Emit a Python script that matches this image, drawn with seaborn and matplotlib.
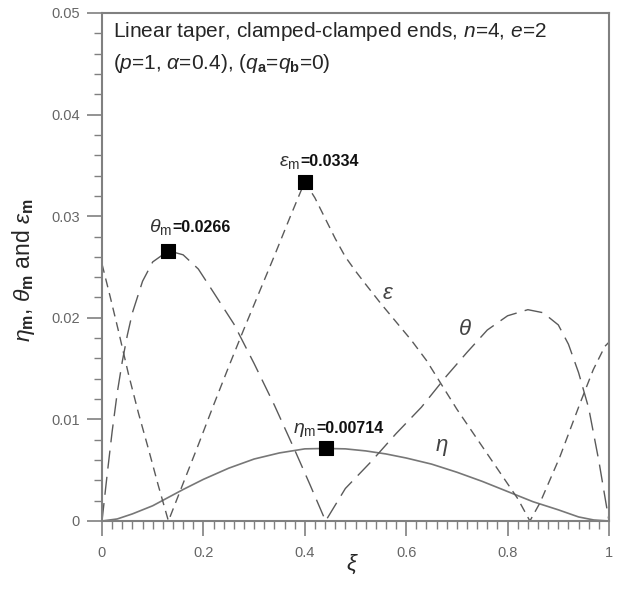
import numpy as np
import pandas as pd
import matplotlib
matplotlib.use("Agg")
import matplotlib.pyplot as plt
from matplotlib.ticker import MultipleLocator, FuncFormatter
import seaborn as sns

# deflection eta (solid)
eta_xi = [0, 0.03, 0.06, 0.10, 0.13, 0.16, 0.20, 0.25, 0.30, 0.35, 0.40, 0.441, 0.48,
          0.52, 0.56, 0.60, 0.65, 0.70, 0.75, 0.80, 0.85, 0.90, 0.94, 0.97, 1.0]
eta = [0, 0.0002, 0.0007, 0.0015, 0.0023, 0.0031, 0.0041, 0.0052, 0.0061, 0.0067, 0.0071,
       0.00714, 0.0071, 0.0069, 0.0066, 0.0062, 0.0056, 0.0048, 0.0039, 0.0029, 0.0019,
       0.0011, 0.0004, 0.0001, 0]

# slope theta (long dash)
theta_xi = [0, 0.01, 0.02, 0.03, 0.04, 0.05, 0.06, 0.08, 0.10, 0.131, 0.16, 0.19, 0.22,
            0.26, 0.30, 0.34, 0.38, 0.41, 0.441, 0.48, 0.53, 0.58, 0.63, 0.68, 0.72, 0.76,
            0.80, 0.84, 0.87, 0.90, 0.92, 0.94, 0.96, 0.98, 1.0]
theta = [0, 0.0045, 0.0088, 0.0126, 0.0157, 0.0183, 0.0205, 0.0236, 0.0255, 0.0266, 0.0262,
         0.0248, 0.0225, 0.0194, 0.0155, 0.0114, 0.0070, 0.0036, 0, 0.0032, 0.0058, 0.0086,
         0.0112, 0.0143, 0.0166, 0.0188, 0.0202, 0.0208, 0.0205, 0.0193, 0.0174, 0.0146,
         0.0111, 0.0059, 0]

# strain epsilon (short dash)
eps_xi = [0, 0.016, 0.032, 0.052, 0.072, 0.091, 0.111, 0.131, 0.16, 0.19, 0.22, 0.25, 0.28,
          0.31, 0.34, 0.37, 0.40, 0.42, 0.44, 0.46, 0.48, 0.50, 0.52, 0.55, 0.58, 0.61,
          0.64, 0.67, 0.70, 0.73, 0.76, 0.79, 0.82, 0.844, 0.864, 0.903, 0.943, 0.969,
          0.992, 1.0]
eps = [0.0253, 0.0221, 0.0188, 0.0145, 0.0106, 0.0072, 0.0035, 0, 0.0037, 0.0075, 0.0114,
       0.0152, 0.0189, 0.0225, 0.0261, 0.0298, 0.0334, 0.0318, 0.0298, 0.0278, 0.0260,
       0.0246, 0.0233, 0.0214, 0.0196, 0.0178, 0.0158, 0.0134, 0.0110, 0.0088, 0.0066,
       0.0044, 0.0022, 0, 0.0018, 0.0063, 0.0116, 0.0149, 0.0172, 0.0176]

# maxima markers and their labels
max_xi = [0.131, 0.40, 0.441]
max_val = [0.0266, 0.0334, 0.00714]
max_symbol = [r"$\theta_\mathrm{m}$", r"$\varepsilon_\mathrm{m}$", r"$\eta_\mathrm{m}$"]
max_value_text = ["=0.0266", "=0.0334", "=0.00714"]
max_text_pos = [(0.138, 0.0284), (0.391, 0.0349), (0.422, 0.00863)]

sns.set_style("ticks")
plt.rcParams["font.family"] = ["Liberation Sans", "DejaVu Sans"]
plt.rcParams["mathtext.fontset"] = "custom"
plt.rcParams["mathtext.rm"] = "Liberation Sans"
plt.rcParams["mathtext.it"] = "Liberation Sans:italic"
plt.rcParams["mathtext.bf"] = "Liberation Sans:bold"

fig = plt.figure(figsize=(6.21, 6.02), dpi=100)
ax = fig.add_axes([102 / 621, 81 / 602, 507 / 621, 508 / 602])

line_grey = "#5a5a5a"
sns.lineplot(x=eta_xi, y=eta, ax=ax, color="#777777", lw=1.2, estimator=None, sort=False)
sns.lineplot(x=theta_xi, y=theta, ax=ax, color=line_grey, lw=1.0, estimator=None,
             sort=False).lines[-1].set_dashes([13, 6])
sns.lineplot(x=eps_xi, y=eps, ax=ax, color=line_grey, lw=1.0, estimator=None,
             sort=False).lines[-1].set_dashes([6.5, 4.3])

sns.scatterplot(x=max_xi, y=max_val, ax=ax, marker="s", s=95, color="black",
                edgecolor="black", zorder=5)

for (tx, ty), sym, val in zip(max_text_pos, max_symbol, max_value_text):
    ax.text(tx, ty, sym, ha="right", va="baseline", fontsize=14, color="#333333")
    ax.text(tx, ty, val, ha="left", va="baseline", fontsize=11.5, fontweight="bold",
            color="#111111")

ax.text(0.565, 0.0224, r"$\varepsilon$", fontsize=16, color="#444444", ha="center", va="center")
ax.text(0.716, 0.0188, r"$\theta$", fontsize=16, color="#444444", ha="center", va="center")
ax.text(0.670, 0.0072, r"$\eta$", fontsize=16, color="#444444", ha="center", va="center")

ax.text(0.022, 0.963, r"Linear taper, clamped-clamped ends, $n$=4, $e$=2",
        transform=ax.transAxes, fontsize=15, va="center", ha="left")
ax.text(0.022, 0.900, r"($p$=1, $\alpha$=0.4), ($q_\mathbf{a}$=$q_\mathbf{b}$=0)",
        transform=ax.transAxes, fontsize=15, va="center", ha="left")

ax.set_xlim(0, 1)
ax.set_ylim(0, 0.05)
ax.xaxis.set_major_locator(MultipleLocator(0.2))
ax.xaxis.set_minor_locator(MultipleLocator(0.02))
ax.yaxis.set_major_locator(MultipleLocator(0.01))
ax.yaxis.set_minor_locator(MultipleLocator(0.002))
fmt = FuncFormatter(lambda v, p: f"{v:g}")
ax.xaxis.set_major_formatter(fmt)
ax.yaxis.set_major_formatter(fmt)

ax.tick_params(which="major", length=11, width=1.2, color="#808080", labelsize=10.5,
               labelcolor="#666666", direction="out")
ax.tick_params(which="minor", length=5.5, width=1.0, color="#808080", direction="out")
ax.tick_params(axis="x", which="major", pad=7)
ax.tick_params(axis="y", which="major", pad=5)
for s in ax.spines.values():
    s.set_color("#808080")
    s.set_linewidth(1.5)

ax.set_xlabel(r"$\xi$", fontsize=16)
ax.set_ylabel(r"$\eta_\mathbf{m}$, $\theta_\mathbf{m}$ and $\varepsilon_\mathbf{m}$", fontsize=16.5)
ax.xaxis.set_label_coords(0.493, -0.063)
ax.yaxis.set_label_coords(-0.128, 0.494)

fig.savefig("out.png", dpi=100)
